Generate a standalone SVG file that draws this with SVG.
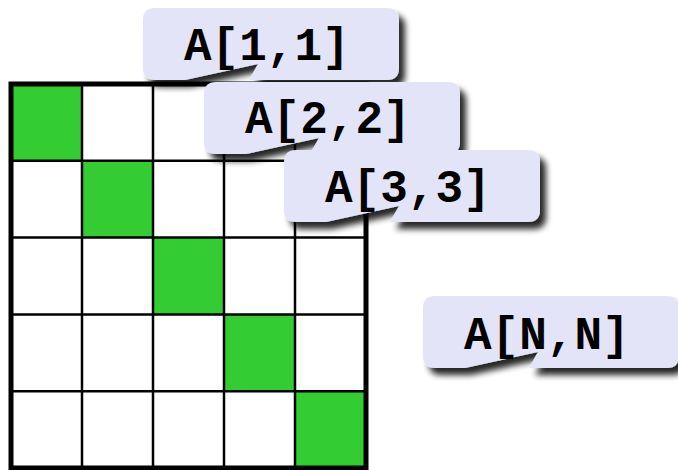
<svg xmlns="http://www.w3.org/2000/svg" width="678" height="470" viewBox="0 0 678 470">
  <style>
    .cell { fill: #ffffff; }
    .green { fill: #33cc33; }
    .inner { stroke: #000; stroke-width: 2.5; fill: none; }
    .outer { stroke: #000; stroke-width: 5; fill: none; }
    .box { fill: #e4e4f8; filter: url(#shadow); }
    .lbl { font-family: "Liberation Mono", "Courier New", monospace; font-weight: bold; font-size: 46px; fill: #000; }
  </style>
  <defs>
    <filter id="shadow" x="-10%" y="-20%" width="130%" height="160%">
      <feGaussianBlur in="SourceAlpha" stdDeviation="3"/>
      <feOffset dx="6" dy="7" result="b"/>
      <feComponentTransfer in="b" result="s">
        <feFuncA type="linear" slope="0.85"/>
      </feComponentTransfer>
      <feMerge>
        <feMergeNode in="s"/>
        <feMergeNode in="SourceGraphic"/>
      </feMerge>
    </filter>
    <path id="callout" d="M12,0 H244 Q256,0 256,12 V60 Q256,72 244,72 H106 L115,56 L42,72 H12 Q0,72 0,60 V12 Q0,0 12,0 Z"/>
  </defs>

  <rect x="0" y="0" width="678" height="470" fill="#ffffff"/>

  <g id="grid">
    <rect class="cell" x="11" y="84" width="355" height="384"/>
    <rect class="green" x="11" y="84" width="71" height="76.8"/>
    <rect class="green" x="82" y="160.8" width="71" height="76.8"/>
    <rect class="green" x="153" y="237.6" width="71" height="76.8"/>
    <rect class="green" x="224" y="314.4" width="71" height="76.8"/>
    <rect class="green" x="295" y="391.2" width="71" height="76.8"/>
    <path class="inner" d="M82,84 V468 M153,84 V468 M224,84 V468 M295,84 V468 M11,160.8 H366 M11,237.6 H366 M11,314.4 H366 M11,391.2 H366"/>
    <rect class="outer" x="11" y="84" width="355" height="384"/>
  </g>

  <g id="a11" transform="translate(143,8)">
    <use href="#callout" class="box"/>
    <text class="lbl" x="41" y="52">A[1,1]</text>
  </g>
  <g id="a22" transform="translate(204,82)">
    <use href="#callout" class="box"/>
    <text class="lbl" x="41" y="51">A[2,2]</text>
  </g>
  <g id="a33" transform="translate(284,150)">
    <use href="#callout" class="box"/>
    <text class="lbl" x="41" y="52">A[3,3]</text>
  </g>
  <g id="aNN" transform="translate(423,296)">
    <use href="#callout" class="box"/>
    <text class="lbl" x="41" y="53">A[N,N]</text>
  </g>
</svg>
